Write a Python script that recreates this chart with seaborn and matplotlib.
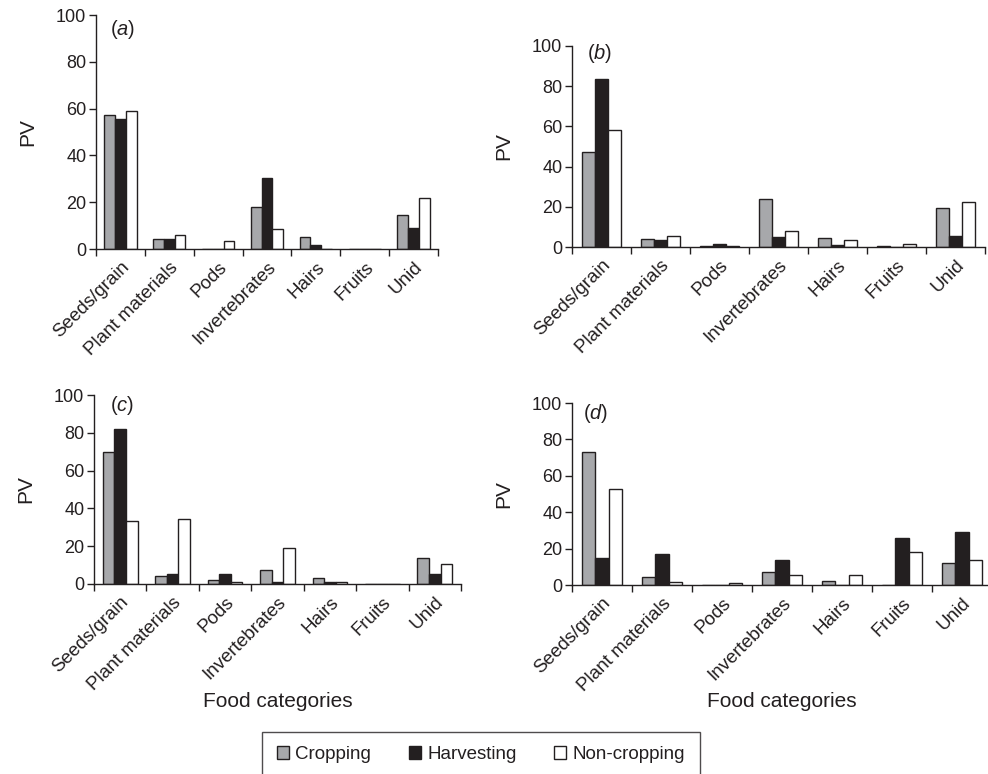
import matplotlib
matplotlib.use("Agg")
import matplotlib.pyplot as plt
import seaborn as sns
import pandas as pd
import numpy as np
from matplotlib.patches import Patch

sns.set_theme(style="ticks")
plt.rcParams['font.family'] = ['Liberation Sans', 'DejaVu Sans']
plt.rcParams['mathtext.fontset'] = 'custom'
plt.rcParams['mathtext.rm'] = 'Liberation Sans'
plt.rcParams['mathtext.it'] = 'Liberation Sans:italic'

categories = ["Seeds/grain", "Plant materials", "Pods", "Invertebrates", "Hairs", "Fruits", "Unid"]
conditions = ["Cropping", "Harvesting", "Non-cropping"]

a_cropping = [57.3, 4.3, 0, 18.1, 5.1, 0, 14.5]
a_harvesting = [55.7, 4.3, 0, 30.3, 1.7, 0, 8.8]
a_noncropping = [59.1, 6.0, 3.3, 8.7, 0, 0, 21.7]

b_cropping = [47.4, 4.0, 0.3, 23.7, 4.3, 0.3, 19.4]
b_harvesting = [83.6, 3.3, 1.3, 4.8, 1.0, 0, 5.5]
b_noncropping = [58.4, 5.6, 0.3, 8.1, 3.5, 1.7, 22.2]

c_cropping = [70.0, 4.2, 2.1, 7.6, 3.2, 0, 13.7]
c_harvesting = [81.9, 5.5, 5.5, 1.0, 1.0, 0, 5.5]
c_noncropping = [33.5, 34.3, 1.0, 19.2, 1.0, 0, 10.6]

d_cropping = [73.2, 4.6, 0, 7.0, 2.4, 0, 12.1]
d_harvesting = [14.9, 17.2, 0, 13.8, 0, 26.0, 29.0]
d_noncropping = [53.0, 1.5, 1.2, 5.7, 5.7, 18.2, 13.9]

panels = {
    "a": (a_cropping, a_harvesting, a_noncropping),
    "b": (b_cropping, b_harvesting, b_noncropping),
    "c": (c_cropping, c_harvesting, c_noncropping),
    "d": (d_cropping, d_harvesting, d_noncropping),
}

colors = {"Cropping": "#a7a8ab", "Harvesting": "#231f20", "Non-cropping": "#ffffff"}
ink = "#231f20"

W, H = 988, 774
fig = plt.figure(figsize=(W / 100, H / 100), dpi=100)

# pixel boxes: left, right, top(y=100), bottom(y=0)
boxes = {
    "a": (96, 438, 15, 249),
    "b": (572, 985, 46, 247),
    "c": (94, 461, 395, 584),
    "d": (572, 992, 403, 585),
}
label_pos = {"a": (0.04, 0.94), "b": (0.036, 0.965), "c": (0.044, 0.947), "d": (0.026, 0.945)}
xlabel_top = {"c": 692, "d": 692}

for key, (l, r, t, b) in boxes.items():
    ax = fig.add_axes([l / W, 1 - b / H, (r - l) / W, (b - t) / H])
    crop, harv, nonc = panels[key]
    df = pd.DataFrame({
        "cat": categories * 3,
        "cond": [conditions[0]] * 7 + [conditions[1]] * 7 + [conditions[2]] * 7,
        "PV": list(crop) + list(harv) + list(nonc),
    })
    sns.barplot(data=df, x="cat", y="PV", hue="cond", order=categories,
                hue_order=conditions, palette=colors, width=0.66,
                edgecolor=ink, linewidth=1.0, legend=False, ax=ax,
                saturation=1, errorbar=None)
    ax.set_xlim(-0.5, 6.5)
    ax.set_ylim(0, 100)
    ax.set_yticks([0, 20, 40, 60, 80, 100])
    sns.despine(ax=ax)
    for s in ["left", "bottom"]:
        ax.spines[s].set_color(ink)
        ax.spines[s].set_linewidth(1.0)
    ax.set_xticks(np.arange(-0.5, 7.0, 1.0), minor=True)
    ax.set_xticks(range(7))
    ax.set_xticklabels(categories, rotation=45, ha="right", rotation_mode="anchor",
                       fontsize=13.5, color=ink)
    ax.tick_params(axis="x", which="major", length=0, pad=7)
    ax.tick_params(axis="x", which="minor", length=5, width=1, color=ink, direction="out")
    ax.tick_params(axis="y", length=5, width=1, color=ink, labelsize=13, pad=2, labelcolor=ink)
    ax.set_ylabel("PV", fontsize=15, color=ink)
    ax.yaxis.set_label_coords(-59 / (r - l), 0.5)
    if key in ("c", "d"):
        ax.set_xlabel("Food categories", fontsize=15, color=ink)
        ax.xaxis.set_label_coords(0.5, -(xlabel_top[key] - b) / (b - t))
    else:
        ax.set_xlabel("")
    ax.text(label_pos[key][0], label_pos[key][1], r"($\mathit{%s}$)" % key,
            transform=ax.transAxes, fontsize=14.5, ha="left", va="center", color=ink)

handles = [Patch(facecolor=colors[c], edgecolor=ink, linewidth=1.0, label=c) for c in conditions]
leg = fig.legend(handles=handles, loc="upper center", bbox_to_anchor=(481 / W, 1 - 732 / H),
                 ncol=3, frameon=True, fontsize=13.5, handlelength=0.65, handleheight=0.65,
                 handletextpad=0.35, columnspacing=2.0, borderpad=0.75, borderaxespad=0,
                 fancybox=False, labelcolor=ink)
leg.get_frame().set_edgecolor(ink)
leg.get_frame().set_linewidth(1.0)

fig.savefig("out.png", dpi=100)
